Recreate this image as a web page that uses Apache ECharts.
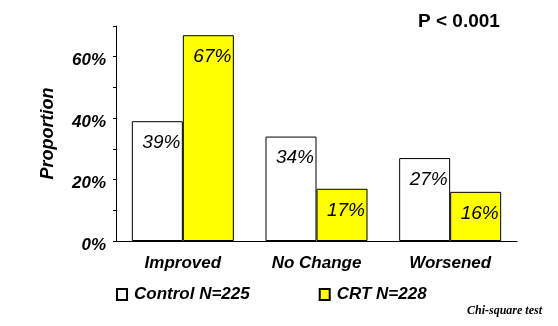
<!DOCTYPE html>
<html>
<head>
<meta charset="utf-8">
<script src="https://cdn.jsdelivr.net/npm/echarts@6/dist/echarts.min.js"></script>
<style>
html,body{margin:0;padding:0;background:#fff;}
#chart{width:558px;height:326px;}
</style>
</head>
<body>
<div id="chart"></div>
<script>
const categories = ['Improved', 'No Change', 'Worsened'];
const controlValues = [39, 34, 27];
const crtValues = [67, 17, 16];
const seriesNames = ['Control N=225', 'CRT N=228'];
const yLabelTicks = [0, 20, 40, 60];

const FONT = '"Liberation Sans", Arial, sans-serif';
const shadow = {textShadowColor: 'rgba(0,0,0,0.45)', textShadowOffsetX: 1.5, textShadowOffsetY: 1.5, textShadowBlur: 0};

const chart = echarts.init(document.getElementById('chart'), null, {renderer: 'canvas'});
const labelCfg = {
  show: true, position: 'insideTop', distance: 12, offset: [4, 0],
  formatter: p => p.value + '%',
  fontFamily: FONT, fontStyle: 'italic', fontSize: 19, color: '#000', ...shadow
};
chart.setOption({
  animation: false,
  backgroundColor: '#fff',
  grid: {left: 116, right: 41, top: 26, bottom: 85},
  title: {
    text: 'P < 0.001', left: 413, top: 7,
    textStyle: {fontFamily: FONT, fontWeight: 'bold', fontSize: 19, color: '#000'}
  },
  legend: {
    left: 111, top: 281, itemWidth: 10, itemHeight: 11, itemGap: 69, icon: 'rect',
    data: seriesNames,
    textStyle: {fontFamily: FONT, fontWeight: 'bold', fontStyle: 'italic', fontSize: 17, color: '#000', padding: [0, 0, 0, 2], ...shadow}
  },
  xAxis: {
    type: 'category', data: categories,
    axisLine: {lineStyle: {color: '#000', width: 1}},
    axisTick: {show: false},
    axisLabel: {fontFamily: FONT, fontWeight: 'bold', fontStyle: 'italic', fontSize: 17, color: '#000', margin: 14, ...shadow}
  },
  yAxis: {
    type: 'value', min: 0, max: 70, interval: 10,
    name: 'Proportion', nameLocation: 'middle', nameRotate: 90, nameGap: 59,
    nameTextStyle: {fontFamily: FONT, fontWeight: 'bold', fontStyle: 'italic', fontSize: 18, color: '#000', ...shadow},
    splitLine: {show: false},
    axisLine: {show: true, lineStyle: {color: '#000', width: 1}},
    axisTick: {show: true, length: 3, lineStyle: {color: '#000'}},
    axisLabel: {
      margin: 10,
      formatter: v => yLabelTicks.includes(v) ? '{a|' + v + '%}' : '',
      rich: {a: {fontFamily: FONT, fontWeight: 'bold', fontStyle: 'italic', fontSize: 17, color: '#000', padding: [8, 0, 0, 0], ...shadow}}
    }
  },
  series: [
    {
      name: seriesNames[0], type: 'bar', data: controlValues, barWidth: 51, barGap: '0%',
      itemStyle: {color: '#fff', borderColor: '#000', borderWidth: 1},
      label: labelCfg
    },
    {
      name: seriesNames[1], type: 'bar', data: crtValues, barWidth: 51,
      itemStyle: {color: '#ffff00', borderColor: '#000', borderWidth: 1},
      label: labelCfg
    }
  ],
  graphic: [{
    type: 'text', left: 467, top: 305,
    style: {text: 'Chi-square test', font: 'italic bold 12px "Liberation Serif", serif', fill: '#000'}
  }]
});
</script>
</body>
</html>
